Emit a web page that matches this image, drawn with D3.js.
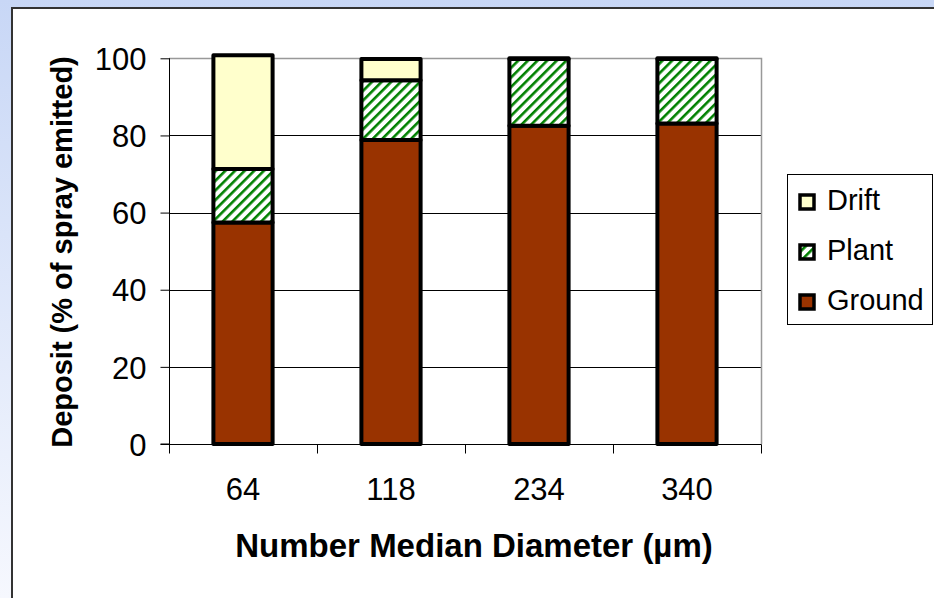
<!DOCTYPE html>
<html>
<head>
<meta charset="utf-8">
<script src="https://cdn.jsdelivr.net/npm/d3@7"></script>
<style>
  html, body { margin: 0; padding: 0; overflow: hidden; }
  svg { display: block; }
  text { font-family: "Liberation Sans", Arial, Helvetica, sans-serif; fill: #000; }
</style>
</head>
<body>
<svg id="chart" width="934" height="598"></svg>
<script>
// Deposit of spray by droplet size (number median diameter, µm)
const categories = ["64", "118", "234", "340"];
const seriesNames = ["Ground", "Plant", "Drift"];
const ground = [57.4, 78.8, 82.5, 83.1];
const plant  = [13.9, 15.5, 17.3, 16.7];
const drift  = [29.5, 5.5, 0.2, 0.2];
const yTicks = [0, 20, 40, 60, 80, 100];
const legendOrder = ["Drift", "Plant", "Ground"];

const rows = categories.map((c, i) => ({
  cat: c, Ground: ground[i], Plant: plant[i], Drift: drift[i]
}));

const svg = d3.select("#chart");
const W = 934, H = 598;

// page backdrop and chart frame
const defs = svg.append("defs");
const bg = defs.append("linearGradient").attr("id", "bg")
  .attr("x1", 0).attr("y1", 0).attr("x2", 0).attr("y2", 1);
bg.append("stop").attr("offset", "0%").attr("stop-color", "#c8d7f6");
bg.append("stop").attr("offset", "100%").attr("stop-color", "#f6f8fe");

// green upward-diagonal hatch used for the Plant series
const hatch = defs.append("pattern").attr("id", "hatch")
  .attr("patternUnits", "userSpaceOnUse")
  .attr("width", 6.8).attr("height", 6.8)
  .attr("patternTransform", "rotate(45)");
hatch.append("rect").attr("width", 6.8).attr("height", 6.8).attr("fill", "#ffffff");
hatch.append("rect").attr("x", 0).attr("width", 2.6).attr("height", 6.8).attr("fill", "#008000");

const fills = { Ground: "#993300", Plant: "url(#hatch)", Drift: "#ffffcc" };

svg.append("rect").attr("width", W).attr("height", H).attr("fill", "url(#bg)");
svg.append("rect").attr("x", 12).attr("y", 8).attr("width", W).attr("height", H)
  .attr("fill", "#ffffff").attr("stroke", "#333333").attr("stroke-width", 2);

// plot area
const plot = { left: 169, right: 761, top: 58.3, bottom: 444 };

const x = d3.scaleBand().domain(categories)
  .range([plot.left, plot.right]).paddingInner(0.6).paddingOuter(0.3);
const xTickScale = d3.scaleBand().domain(categories).range([plot.left, plot.right]);
const y = d3.scaleLinear().domain([0, 100]).range([plot.bottom, plot.top]);

// gridlines
svg.append("g").selectAll("line")
  .data(yTicks.filter(t => t > 0 && t < 100))
  .join("line")
  .attr("x1", plot.left).attr("x2", plot.right)
  .attr("y1", d => Math.round(y(d)) + 0.5).attr("y2", d => Math.round(y(d)) + 0.5)
  .attr("stroke", "#000").attr("stroke-width", 1);

// plot-area border (top and right in grey)
svg.append("path")
  .attr("d", `M${plot.left},${Math.round(plot.top) + 0.5}H${plot.right + 0.5}V${plot.bottom}`)
  .attr("fill", "none").attr("stroke", "#999999").attr("stroke-width", 1.5);

// stacked bars
const stack = d3.stack().keys(seriesNames);
const layers = stack(rows);
svg.append("g").selectAll("g")
  .data(layers)
  .join("g")
  .attr("fill", d => fills[d.key])
  .selectAll("rect")
  .data(d => d)
  .join("rect")
  .attr("x", d => x(d.data.cat))
  .attr("width", x.bandwidth())
  .attr("y", d => y(d[1]))
  .attr("height", d => y(d[0]) - y(d[1]))
  .attr("stroke", "#000").attr("stroke-width", 4)
  .attr("stroke-linejoin", "round");

// y axis
const yAxis = d3.axisLeft(y).tickValues(yTicks).tickSize(9).tickPadding(14);
const gy = svg.append("g").attr("transform", `translate(${plot.left + 0.5},0)`).call(yAxis);
gy.select(".domain").attr("stroke", "#000").attr("d", `M-9,${plot.bottom}H0V${plot.top}`);
gy.selectAll(".tick line").attr("stroke", "#000");
gy.selectAll(".tick text").attr("font-size", 31).attr("font-family", null).attr("dy", "0.36em");

// x axis: ticks at category boundaries, labels at category centres
const gx = svg.append("g").attr("transform", `translate(0,${plot.bottom + 0.5})`);
gx.append("line").attr("x1", plot.left).attr("x2", plot.right + 0.5)
  .attr("stroke", "#000");
const boundaries = categories.map(c => xTickScale(c)).concat([plot.right]);
gx.selectAll("line.tk").data(boundaries).join("line").attr("class", "tk")
  .attr("x1", d => Math.round(d) + 0.5).attr("x2", d => Math.round(d) + 0.5)
  .attr("y1", 0).attr("y2", 9).attr("stroke", "#000");
gx.selectAll("text").data(categories).join("text")
  .attr("x", d => xTickScale(d) + xTickScale.bandwidth() / 2)
  .attr("y", 55)
  .attr("text-anchor", "middle").attr("font-size", 31)
  .text(d => d);

// axis titles
svg.append("text")
  .attr("x", (plot.left + plot.right) / 2 + 9).attr("y", 557)
  .attr("text-anchor", "middle").attr("font-size", 33).attr("font-weight", "bold")
  .text("Number Median Diameter (µm)");

svg.append("text")
  .attr("transform", "translate(72,252) rotate(-90)")
  .attr("text-anchor", "middle").attr("font-size", 29).attr("font-weight", "bold")
  .text("Deposit (% of spray emitted)");

// legend
const lg = svg.append("g");
lg.append("rect").attr("x", 787.5).attr("y", 174.5).attr("width", 145).attr("height", 150)
  .attr("fill", "#fff").attr("stroke", "#000").attr("stroke-width", 1);
const items = lg.selectAll("g.item").data(legendOrder).join("g").attr("class", "item")
  .attr("transform", (d, i) => `translate(0,${i * 50})`);
items.append("rect").attr("x", 800).attr("y", 195).attr("width", 14).attr("height", 14)
  .attr("fill", d => fills[d]).attr("stroke", "#000").attr("stroke-width", 3.5);
items.append("text").attr("x", 827).attr("y", 210).attr("font-size", 29)
  .text(d => d);
</script>
</body>
</html>
